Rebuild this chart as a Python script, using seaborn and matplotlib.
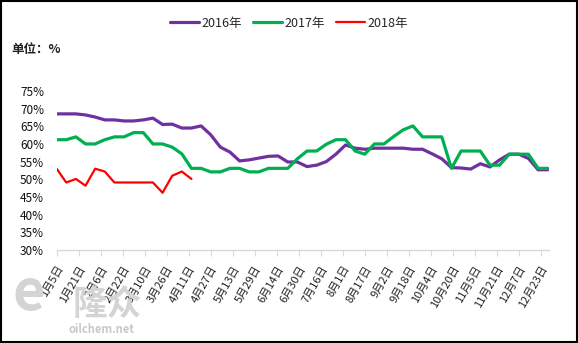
import numpy as np
import pandas as pd
import matplotlib
matplotlib.use('Agg')
import matplotlib.pyplot as plt
import seaborn as sns
from matplotlib.patches import Rectangle

# ---- data (weekly operating rate, %) ----
start_date = '2017-01-05'
series_names = ['2016年', '2017年', '2018年']
values_2016 = [68.5, 68.5, 68.5, 68.2, 67.6, 66.8, 66.8, 66.5, 66.5, 66.8,
               67.3, 65.5, 65.6, 64.5, 64.5, 65.1, 62.6, 59.1, 57.7, 55.2,
               55.5, 56.0, 56.5, 56.6, 54.9, 54.9, 53.6, 54.0, 55.0, 57.1,
               59.7, 58.8, 58.5, 58.8, 58.8, 58.8, 58.8, 58.5, 58.5, 57.2,
               55.8, 53.3, 53.2, 52.9, 54.4, 53.5, 55.5, 57.1, 57.1, 55.9,
               52.7, 52.7]
values_2017 = [61.2, 61.2, 62.0, 60.0, 60.0, 61.2, 62.0, 62.0, 63.2, 63.2,
               60.0, 60.0, 59.1, 57.2, 53.1, 53.1, 52.1, 52.1, 53.1, 53.1,
               52.1, 52.1, 53.1, 53.1, 53.1, 55.8, 58.0, 58.0, 59.9, 61.2,
               61.2, 58.0, 57.1, 60.0, 60.0, 62.1, 64.0, 65.1, 62.0, 62.0,
               62.0, 53.1, 58.0, 58.0, 58.0, 54.0, 54.0, 57.1, 57.1, 57.1,
               53.1, 53.1]
values_2018 = [53.0, 49.1, 50.1, 48.2, 53.0, 52.2, 49.1, 49.1, 49.1, 49.1,
               49.1, 46.2, 51.0, 52.2, 50.1]
tick_labels = ['1月5日', '1月21日', '2月6日', '2月22日', '3月10日', '3月26日',
               '4月11日', '4月27日', '5月13日', '5月29日', '6月14日', '6月30日',
               '7月16日', '8月1日', '8月17日', '9月2日', '9月18日', '10月4日',
               '10月20日', '11月5日', '11月21日', '12月7日', '12月23日']
y_ticks = [30, 35, 40, 45, 50, 55, 60, 65, 70, 75]

colors = {'2016年': '#7030A0', '2017年': '#00B050', '2018年': '#FF0000'}
widths = {'2016年': 2.3, '2017年': 2.3, '2018年': 1.6}

frames = []
for name, vals in zip(series_names, [values_2016, values_2017, values_2018]):
    d = pd.date_range(start_date, periods=len(vals), freq='7D')
    frames.append(pd.DataFrame({'date': d, 'value': vals, 'series': name}))
df = pd.concat(frames, ignore_index=True)

sns.set_theme(style='white')
plt.rcParams['font.family'] = ['Noto Sans CJK SC', 'DejaVu Sans']

fig = plt.figure(figsize=(5.78, 3.43), dpi=100)
ax = fig.add_axes([0.098, 0.271, 0.852, 0.464])

# watermark
fig.text(0.022, 0.06, 'e', fontsize=40, fontweight='bold', color='#D4D4D4', zorder=0,
         va='bottom')
fig.text(0.125, 0.062, '隆众', fontsize=25, fontweight='bold', color='#D4D4D4', zorder=0,
         va='bottom')
fig.text(0.118, 0.058, 'oilchem.net', fontsize=8, fontweight='bold', color='#C8C8C8',
         zorder=0, va='top')

for name in series_names:
    sub = df[df['series'] == name]
    sns.lineplot(data=sub, x='date', y='value', color=colors[name],
                 linewidth=widths[name], ax=ax, label=name)

ax.set_xlim(pd.Timestamp(start_date), pd.Timestamp(start_date) + pd.Timedelta(days=358))
ax.set_ylim(30, 75)
ax.set_yticks(y_ticks)
ax.set_yticklabels([f'{v}%' for v in y_ticks])
xt = pd.date_range(start_date, periods=len(tick_labels), freq='16D')
ax.set_xticks(xt)
ax.set_xticklabels(tick_labels, rotation=60, ha='right', rotation_mode='anchor',
                   fontsize=8, color='#222222')
ax.set_xlabel('')
ax.set_ylabel('')
ax.tick_params(axis='y', length=0, labelsize=8.5, pad=9, labelcolor='#111111')
ax.tick_params(axis='x', length=4, width=0.8, color='#D9D9D9', direction='out', pad=6,
               bottom=True)
for s in ['left', 'right', 'top']:
    ax.spines[s].set_visible(False)
ax.spines['bottom'].set_color('#D9D9D9')
ax.spines['bottom'].set_linewidth(1)
ax.grid(False)
ax.patch.set_alpha(0)

ax.legend(loc='center', bbox_to_anchor=(0.5, 0.932), bbox_transform=fig.transFigure,
          ncol=3, frameon=False, fontsize=9, handlelength=2.3, columnspacing=0.9,
          handletextpad=0.2)

fig.text(0.02, 0.845, '单位：%', fontsize=9, fontweight='bold', color='#222222')

fig.patches.append(Rectangle((0.001, 0.002), 0.997, 0.995, transform=fig.transFigure,
                             fill=False, edgecolor='black', linewidth=1.5))

fig.savefig('out.png', dpi=100)
